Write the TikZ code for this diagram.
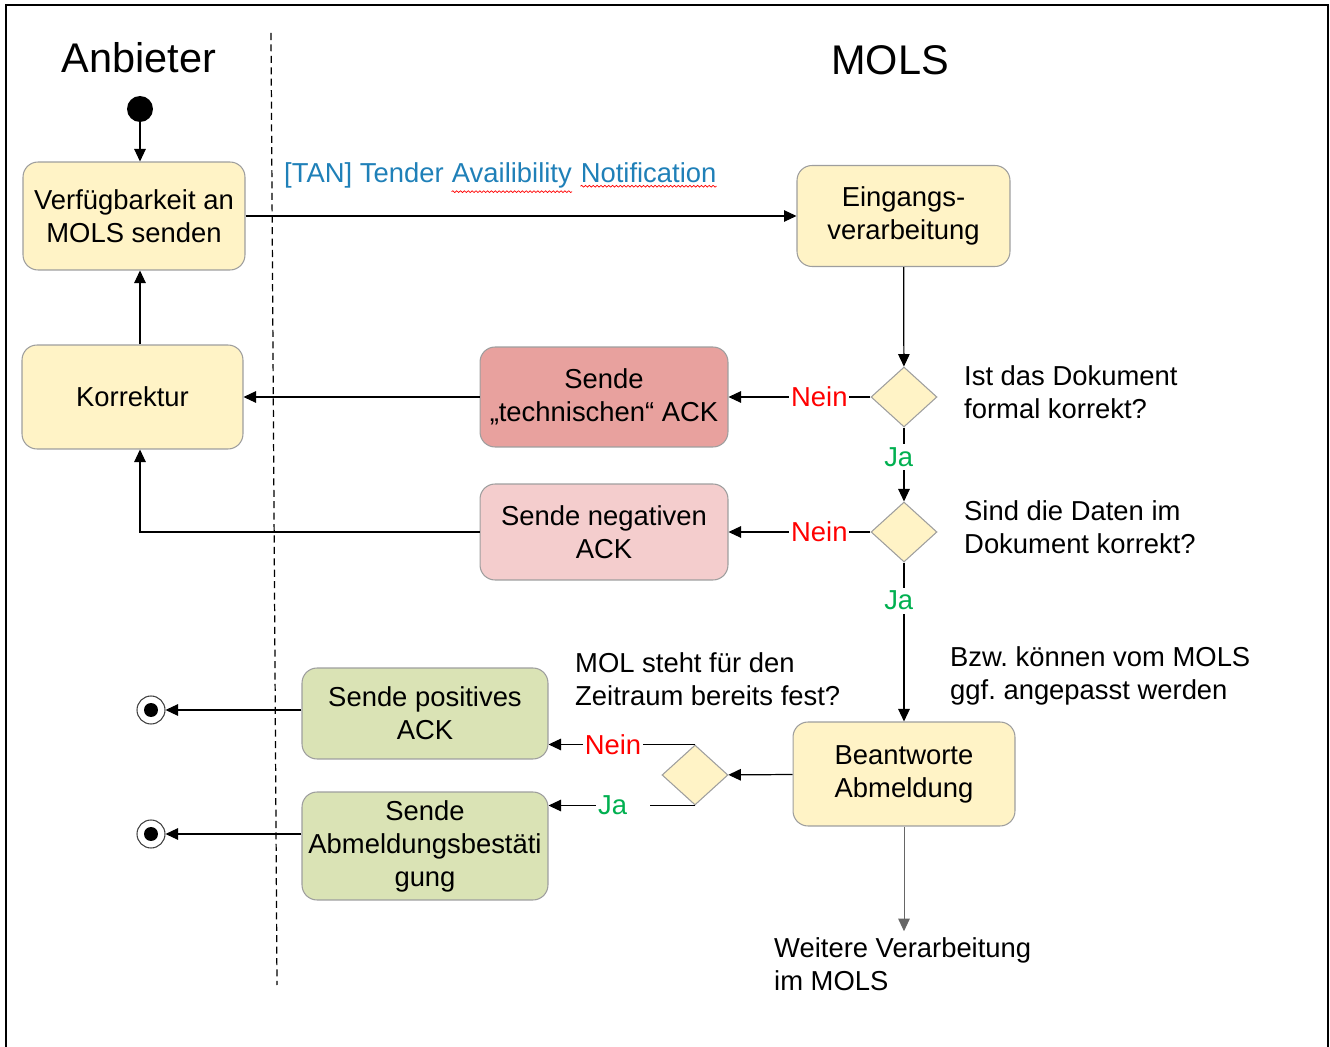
\documentclass[tikz,border=0pt]{standalone}
\usepackage{fontspec}
\setmainfont{Liberation Sans}
\usetikzlibrary{arrows.meta,shapes.geometric,decorations.pathmorphing}
\definecolor{actyellow}{HTML}{FFF3C6}
\definecolor{boxgray}{HTML}{9E9E9E}
\definecolor{techred}{HTML}{E8A19E}
\definecolor{negpink}{HTML}{F4CDCD}
\definecolor{actgreen}{HTML}{DAE3B5}
\definecolor{neinred}{HTML}{FF0000}
\definecolor{jagreen}{HTML}{00B050}
\definecolor{tanblue}{HTML}{1F80B8}
\newcommand{\spellmark}[1]{\tikz[baseline=(w.base)]{\node[inner sep=0pt,text=tanblue](w){#1};
  \draw[red,line width=0.4pt,decorate,decoration={snake,amplitude=0.5pt,segment length=2.2pt}]
    ([yshift=-1.5pt]w.south west) -- ([yshift=-1.5pt]w.south east);}}

\begin{document}
\begin{tikzpicture}[x=0.02cm,y=-0.02cm,
    every node/.style={font=\fontsize{15.6}{18.8}\selectfont},
    title/.style={font=\fontsize{23.6}{28}\selectfont},
    act/.style={draw=boxgray,line width=0.6pt,rounded corners=0.3cm,align=center,inner sep=0pt},
    dec/.style={diamond,draw=boxgray,line width=0.6pt,fill=actyellow,minimum width=1.32cm,minimum height=1.2cm,inner sep=0pt},
    startnode/.style={circle,fill=black,minimum size=0.52cm,inner sep=0pt},
    endnode/.style={circle,draw=black!75,line width=0.6pt,fill=white,minimum size=0.56cm,inner sep=0pt,
      path picture={\fill[black] (path picture bounding box.center) circle (0.14cm);}},
    arr/.style={-{Triangle[length=0.25cm,width=0.23cm]},line width=0.7pt},
    nein/.style={text=neinred,fill=white,inner sep=1pt},
    ja/.style={text=jagreen,fill=white,inner sep=2pt},
    note/.style={align=left,anchor=west}]
  \useasboundingbox (0,0) rectangle (1330,1047);
  \draw[line width=1.2pt] (6,1047) -- (6,5) -- (1328,5) -- (1328,1047);
  \draw[line width=0.7pt,dash pattern=on 4pt off 2.5pt] (271,33) -- (277,985);

  \node[title] (anb) at (139,58) {Anbieter};
  \node[title] (mols) at (890,60) {MOLS};

  \node[startnode] (start) at (140,109) {};
  \node[act,fill=actyellow,minimum width=4.44cm,minimum height=2.16cm] (verf) at (134,216) {Verfügbarkeit an\\MOLS senden};
  \node[act,fill=actyellow,minimum width=4.26cm,minimum height=2.02cm] (eing) at (903.5,216) {Eingangs-\\verarbeitung};
  \node[anchor=west,text=tanblue] (tan) at (278,178) {[TAN] Tender \spellmark{Availibility} \spellmark{Notification}};
  \node[act,fill=actyellow,minimum width=4.42cm,minimum height=2.08cm] (korr) at (132.5,397) {Korrektur};
  \node[act,fill=techred,minimum width=4.96cm,minimum height=2.0cm] (tech) at (604,397) {Sende\\„technischen“ ACK};
  \node[dec] (d1) at (904,397) {};
  \node[note] (q1) at (958,392) {Ist das Dokument\\formal korrekt?};
  \node[act,fill=negpink,minimum width=4.96cm,minimum height=1.92cm] (neg) at (604,532) {Sende negativen\\ACK};
  \node[dec] (d2) at (904,532) {};
  \node[note] (q2) at (958,527) {Sind die Daten im\\Dokument korrekt?};
  \node[note] (hint) at (944,676) {Bzw.\ können vom MOLS\\ggf.\ angepasst werden};
  \node[act,fill=actyellow,minimum width=4.44cm,minimum height=2.08cm] (bean) at (904,774) {Beantworte\\Abmeldung};
  \node[dec] (d3) at (695,775) {};
  \node[note] (q3) at (569,679) {MOL steht für den\\Zeitraum bereits fest?};
  \node[act,fill=actgreen,minimum width=4.92cm,minimum height=1.82cm] (pos) at (425,713.5) {Sende positives\\ACK};
  \node[act,fill=actgreen,minimum width=4.92cm,minimum height=2.16cm] (abm) at (425,846) {Sende\\Abmeldungsbestäti\\gung};
  \node[endnode] (end1) at (151,710) {};
  \node[endnode] (end2) at (151,834) {};
  \node[note] (weiter) at (768,964) {Weitere Verarbeitung\\im MOLS};

  \begin{scope}[arr]
    \draw (start) -- (verf.north -| start);
    \draw (verf) -- (eing);
    \draw (eing) -- (d1);
    \draw (d1) -- node[nein,pos=0.36]{Nein} (tech);
    \draw (tech) -- (korr);
    \draw (korr.north -| start) -- (verf.south -| start);
    \draw (d1) -- node[ja,pos=0.4,xshift=-3pt]{Ja} (d2);
    \draw (d2) -- node[nein,pos=0.36]{Nein} (neg);
    \draw (neg) -| (korr.south -| start);
    \draw (d2) -- node[ja,pos=0.24,xshift=-3pt]{Ja} (bean);
    \draw (bean) -- (d3);
    \draw (d3.north) -- node[nein,pos=0.56]{Nein} (d3.north -| pos.east);
    \draw (d3.south) -- node[ja,pos=0.49,text width=1.0cm,align=left,inner sep=1pt]{Ja} (d3.south -| abm.east);
    \draw (pos.west |- end1) -- (end1);
    \draw (abm.west |- end2) -- (end2);
    \draw[draw=black!60,line width=0.5pt] (bean.south) -- (bean.south |- weiter.north);
  \end{scope}
\end{tikzpicture}
\end{document}
